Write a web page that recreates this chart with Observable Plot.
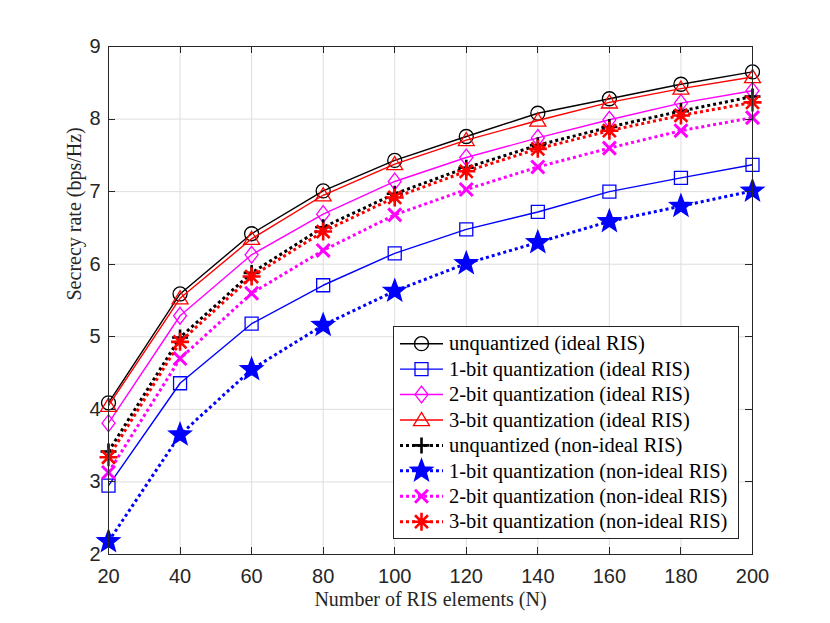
<!DOCTYPE html>
<html><head><meta charset="utf-8">
<script src="https://cdn.jsdelivr.net/npm/d3@7"></script>
<script src="https://cdn.jsdelivr.net/npm/@observablehq/plot@0.6"></script>
<style>body{margin:0;background:#fff}#chart{width:830px;height:623px}</style>
</head><body><div id="chart"></div>
<script>
// ---- data ----
const N = [20, 40, 60, 80, 100, 120, 140, 160, 180, 200];
const unquantIdeal = [4.09, 5.59, 6.42, 7.01, 7.43, 7.76, 8.08, 8.28, 8.48, 8.65];
const bit1Ideal    = [2.95, 4.36, 5.18, 5.71, 6.15, 6.48, 6.72, 7.00, 7.19, 7.37];
const bit2Ideal    = [3.81, 5.29, 6.13, 6.69, 7.14, 7.47, 7.74, 7.99, 8.22, 8.39];
const bit3Ideal    = [4.05, 5.53, 6.35, 6.95, 7.38, 7.71, 7.98, 8.23, 8.42, 8.58];
const unquantNon   = [3.42, 4.99, 5.88, 6.51, 6.97, 7.33, 7.64, 7.89, 8.11, 8.31];
const bit1Non      = [2.18, 3.65, 4.55, 5.16, 5.63, 6.01, 6.30, 6.59, 6.80, 7.01];
const bit2Non      = [3.13, 4.70, 5.60, 6.19, 6.68, 7.03, 7.34, 7.60, 7.84, 8.02];
const bit3Non      = [3.34, 4.93, 5.83, 6.45, 6.92, 7.28, 7.59, 7.84, 8.05, 8.23];
const seriesLabels = [
  "unquantized (ideal RIS)", "1-bit quantization (ideal RIS)",
  "2-bit quantization (ideal RIS)", "3-bit quantization (ideal RIS)",
  "unquantized (non-ideal RIS)", "1-bit quantization (non-ideal RIS)",
  "2-bit quantization (non-ideal RIS)", "3-bit quantization (non-ideal RIS)"
];
const seriesValues = [unquantIdeal, bit1Ideal, bit2Ideal, bit3Ideal, unquantNon, bit1Non, bit2Non, bit3Non];
const xTicks = [20, 40, 60, 80, 100, 120, 140, 160, 180, 200];
const yTicks = [2, 3, 4, 5, 6, 7, 8, 9];
const xLabel = "Number of RIS elements (N)";
const yLabel = "Secrecy rate (bps/Hz)";

// ---- symbols ----
const rr = s => Math.sqrt(s / Math.PI);
const symbols = {
  circle: {draw(c, s) { const r = rr(s); c.moveTo(r, 0); c.arc(0, 0, r, 0, 2 * Math.PI); }},
  square: {draw(c, s) { const r = rr(s); c.moveTo(-r, -r); c.lineTo(r, -r); c.lineTo(r, r); c.lineTo(-r, r); c.closePath(); }},
  diamond: {draw(c, s) { const r = rr(s), h = r * 1.3; c.moveTo(0, -h); c.lineTo(r, 0); c.lineTo(0, h); c.lineTo(-r, 0); c.closePath(); }},
  triangle: {draw(c, s) { const r = rr(s); c.moveTo(0, -r * 0.95); c.lineTo(r, r * 0.7); c.lineTo(-r, r * 0.7); c.closePath(); }},
  plus: {draw(c, s) { const r = rr(s); c.moveTo(-r, 0); c.lineTo(r, 0); c.moveTo(0, -r); c.lineTo(0, r); }},
  star: {draw(c, s) { const R = rr(s), ri = R * 0.42;
    for (let i = 0; i < 10; i++) { const a = -Math.PI / 2 + i * Math.PI / 5, q = i % 2 ? ri : R;
      const px = q * Math.cos(a), py = q * Math.sin(a); i ? c.lineTo(px, py) : c.moveTo(px, py); }
    c.closePath(); }},
  times: {draw(c, s) { const r = rr(s) * 0.72; c.moveTo(-r, -r); c.lineTo(r, r); c.moveTo(r, -r); c.lineTo(-r, r); }},
  asterisk: {draw(c, s) { const r = rr(s), d = r * 0.72; c.moveTo(-r, 0); c.lineTo(r, 0); c.moveTo(0, -r); c.lineTo(0, r);
    c.moveTo(-d, -d); c.lineTo(d, d); c.moveTo(d, -d); c.lineTo(-d, d); }}
};

// ---- styles ----
const styles = [
  {color: "#000000", dash: null, lw: 1.4, sym: symbols.circle, r: 7, fill: "none", sw: 1.3},
  {color: "#0000FF", dash: null, lw: 1.4, sym: symbols.square, r: 6.5, fill: "none", sw: 1.3},
  {color: "#FF00FF", dash: null, lw: 1.4, sym: symbols.diamond, r: 6.5, fill: "none", sw: 1.3},
  {color: "#FF0000", dash: null, lw: 1.4, sym: symbols.triangle, r: 8, fill: "none", sw: 1.3},
  {color: "#000000", dash: "3,3", lw: 3, sym: symbols.plus, r: 8, fill: "none", sw: 2.6},
  {color: "#0000FF", dash: "3,3", lw: 3, sym: symbols.star, r: 11.5, fill: "#0000FF", sw: 1.5},
  {color: "#FF00FF", dash: "3,3", lw: 3, sym: symbols.times, r: 9, fill: "none", sw: 3},
  {color: "#FF0000", dash: "3,3", lw: 3, sym: symbols.asterisk, r: 9, fill: "none", sw: 2.6}
];

const marks = [
  Plot.gridX(xTicks, {stroke: "#dedede", strokeOpacity: 1}),
  Plot.gridY(yTicks, {stroke: "#dedede", strokeOpacity: 1})
];
seriesValues.forEach((vals, i) => {
  const st = styles[i];
  const rows = N.map((n, j) => ({n, v: vals[j]}));
  marks.push(Plot.line(rows, {x: "n", y: "v", stroke: st.color, strokeWidth: st.lw,
    strokeDasharray: st.dash || undefined, strokeLinecap: "butt"}));
  marks.push(Plot.dot(rows, {x: "n", y: "v", symbol: () => st.sym, r: st.r, stroke: st.color,
    fill: st.fill, strokeWidth: st.sw}));
});
marks.push(
  Plot.frame({stroke: "#262626", strokeWidth: 1}),
  Plot.axisX(xTicks, {tickSize: 0, tickPadding: 14, fontSize: 20, fill: "#262626",
    fontFamily: "Liberation Sans, Arial, sans-serif", label: null, tickFormat: d => String(d)}),
  Plot.axisY(yTicks, {tickSize: 0, tickPadding: 8, fontSize: 20, fill: "#262626",
    fontFamily: "Liberation Sans, Arial, sans-serif", label: null, tickFormat: d => String(d)}),
  Plot.text([xLabel], {text: d => d, frameAnchor: "bottom", dy: 51, fontSize: 20,
    fontFamily: "Liberation Serif, Times New Roman, serif", fill: "#262626"}),
  Plot.text([yLabel], {text: d => d, frameAnchor: "left", dx: -34, rotate: -90, fontSize: 20,
    fontFamily: "Liberation Serif, Times New Roman, serif", fill: "#262626"})
);

const chart = Plot.plot({
  width: 830, height: 623,
  marginLeft: 108, marginRight: 78, marginTop: 46, marginBottom: 69,
  x: {domain: [20, 200]},
  y: {domain: [2, 9]},
  symbol: {type: "identity"},
  style: {background: "#fff", fontFamily: "Liberation Sans, Arial, sans-serif"},
  marks
});
document.getElementById("chart").appendChild(chart);

// inward ticks on all four sides
const sx = chart.scale("x"), sy = chart.scale("y");
const svg = d3.select(chart);
const x0 = sx.apply(20), x1 = sx.apply(200), y0 = sy.apply(2), y1 = sy.apply(9);
const tg = svg.append("g").attr("stroke", "#262626").attr("stroke-width", 1);
xTicks.forEach(t => {
  const x = Math.round(sx.apply(t)) + 0.5;
  tg.append("line").attr("x1", x).attr("x2", x).attr("y1", y0).attr("y2", y0 - 7);
  tg.append("line").attr("x1", x).attr("x2", x).attr("y1", y1).attr("y2", y1 + 7);
});
yTicks.forEach(t => {
  const y = Math.round(sy.apply(t)) + 0.5;
  tg.append("line").attr("y1", y).attr("y2", y).attr("x1", x0).attr("x2", x0 + 7);
  tg.append("line").attr("y1", y).attr("y2", y).attr("x1", x1).attr("x2", x1 - 7);
});

// legend
const lg = svg.append("g").attr("text-anchor", "start");
const LX = 393.5, LY = 326.5, LW = 345, LH = 212;
lg.append("rect").attr("x", LX).attr("y", LY).attr("width", LW).attr("height", LH)
  .attr("fill", "#fff").attr("stroke", "#262626").attr("stroke-width", 1);
seriesLabels.forEach((lab, i) => {
  const st = styles[i];
  const cy = 343.7 + i * 25.43;
  lg.append("line").attr("x1", 400).attr("x2", 443).attr("y1", cy).attr("y2", cy)
    .attr("stroke", st.color).attr("stroke-width", st.lw).attr("stroke-dasharray", st.dash);
  lg.append("path").attr("transform", `translate(421.5,${cy})`)
    .attr("d", d3.symbol(st.sym, Math.PI * st.r * st.r)())
    .attr("fill", st.fill).attr("stroke", st.color).attr("stroke-width", st.sw);
  lg.append("text").attr("x", 449).attr("y", cy).attr("dy", "0.33em").text(lab)
    .attr("text-anchor", "start")
    .attr("font-family", "Liberation Serif, Times New Roman, serif").attr("font-size", 20.5)
    .attr("fill", "#000");
});
</script></body></html>
